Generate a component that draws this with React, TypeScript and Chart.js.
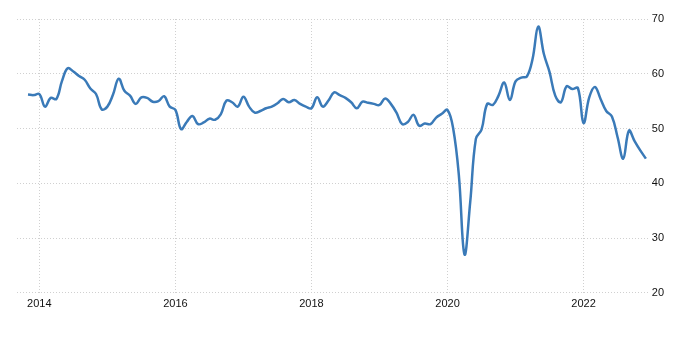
import React, { useEffect, useRef } from "react";
import { Chart, registerables } from "chart.js";

Chart.register(...registerables);

// Monthly values starting November 2013 (month offset -2 relative to Jan 2014)
const startOffset = -2;
const values: number[] = [
  56.2, 56.1, // 2013 Nov-Dec
  56.3, 54.0, 55.6, 55.4, 58.7, 61.0, 60.4, 59.6, 58.9, 57.3, 56.3, 53.5, // 2014
  54.0, 56.2, 59.1, 56.9, 56.0, 54.5, 55.7, 55.6, 54.9, 55.0, 55.9, 54.0, // 2015
  53.4, 49.9, 51.2, 52.3, 50.8, 51.1, 51.8, 51.6, 52.6, 55.1, 54.8, 54.0, // 2016
  55.8, 54.0, 52.9, 53.2, 53.7, 54.0, 54.6, 55.4, 54.8, 55.2, 54.5, 54.0, // 2017
  53.7, 55.7, 54.0, 55.1, 56.6, 56.1, 55.6, 54.8, 53.7, 54.9, 54.7, 54.5, // 2018
  54.3, 55.5, 54.5, 52.9, 50.8, 51.2, 52.5, 50.5, 50.9, 50.8, 52.0, 52.7, // 2019
  53.4, 50.0, 41.5, 27.0, 36.5, 48.1, 49.8, 54.5, 54.3, 56.0, 58.4, 55.2, // 2020
  58.6, 59.3, 59.5, 62.7, 68.6, 63.6, 60.3, 56.0, 54.8, 57.7, 57.2, 57.4, // 2021
  51.0, 55.7, 57.6, 55.4, 53.2, 52.2, 48.4, 44.5, 49.6, 47.7, 46.0, 44.5, // 2022
];

const yearTicks: number[] = [2014, 2016, 2018, 2020, 2022];
const yTicks: number[] = [20, 30, 40, 50, 60, 70];

export default function App() {
  const canvasRef = useRef<HTMLCanvasElement | null>(null);

  useEffect(() => {
    document.body.style.margin = "0";
    const canvas = canvasRef.current;
    if (!canvas) return;
    const points = values.map((v, i) => ({ x: i + startOffset, y: v }));
    const gridColor = "#d0d0d0";
    const fontSpec = { family: "'Liberation Sans', Arial, sans-serif", size: 11 };
    const chart = new Chart(canvas, {
      type: "line",
      data: {
        datasets: [
          {
            data: points,
            borderColor: "#3a7ab8",
            borderWidth: 2.5,
            pointRadius: 0,
            tension: 0.4,
            fill: false,
          },
        ],
      },
      options: {
        animation: false,
        responsive: true,
        maintainAspectRatio: false,
        layout: { padding: { left: 17, right: 33, top: 19, bottom: 48 } },
        plugins: { legend: { display: false }, tooltip: { enabled: false } },
        scales: {
          x: {
            type: "linear",
            min: -3.94,
            max: 107.5,
            afterBuildTicks: (axis: any) => {
              axis.ticks = yearTicks.map((y) => ({ value: (y - 2014) * 12 }));
            },
            ticks: {
              autoSkip: false,
              maxRotation: 0,
              padding: 5,
              color: "#111",
              font: fontSpec,
              callback: (v: any) => String(2014 + Math.round(Number(v) / 12)),
            },
            grid: {
              color: gridColor,
              drawTicks: false,
              lineWidth: 1,
            },
            border: { display: false, dash: [1, 2] },
          },
          y: {
            position: "right",
            min: 20,
            max: 70,
            afterBuildTicks: (axis: any) => {
              axis.ticks = yTicks.map((v) => ({ value: v }));
            },
            ticks: {
              padding: 3,
              color: "#111",
              font: fontSpec,
            },
            grid: {
              color: gridColor,
              drawTicks: false,
              lineWidth: 1,
            },
            border: { display: false, dash: [1, 2] },
          },
        },
      },
    });
    return () => chart.destroy();
  }, []);

  return (
    <div style={{ position: "fixed", left: 0, top: 0, width: 700, height: 364 }}>
      <canvas ref={canvasRef} />
    </div>
  );
}
